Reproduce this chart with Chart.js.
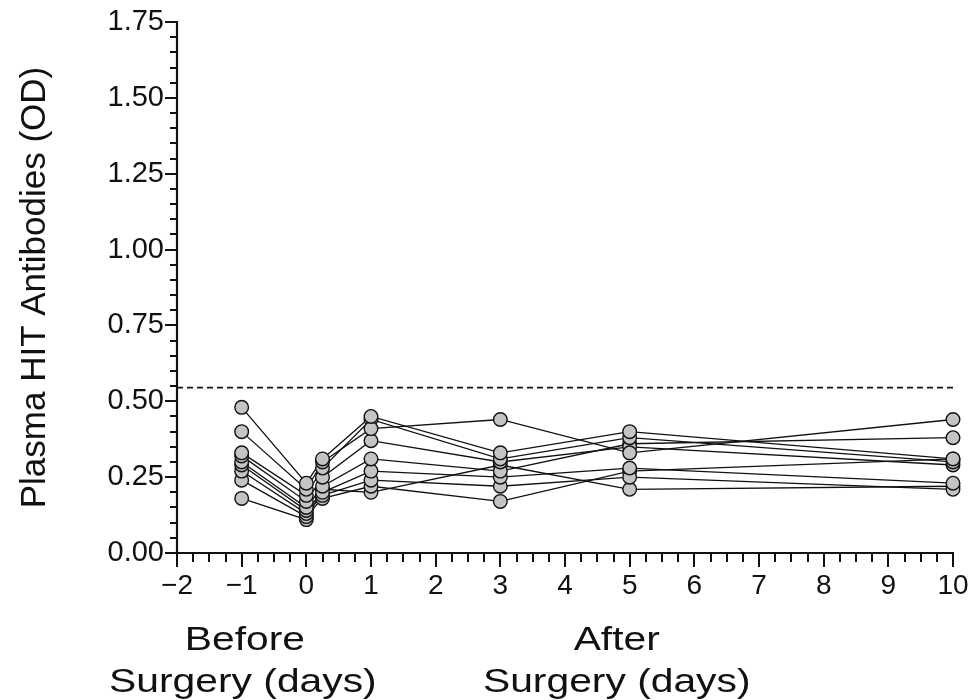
<!DOCTYPE html>
<html><head><meta charset="utf-8">
<script src="https://cdn.jsdelivr.net/npm/chart.js@4.4.1/dist/chart.umd.min.js"></script>
<style>html,body{margin:0;padding:0;background:#fff}#wrap{width:975px;height:700px}</style>
</head><body><div id="wrap"><canvas id="c" width="975" height="700"></canvas></div>
<script>
// Sampling days (relative to surgery)
const days = [-1, 0, 0.25, 1, 3, 5, 10];
// Plasma HIT antibody OD per patient
const patient1 = [0.48, 0.23, 0.31, 0.45, 0.33, 0.40, 0.31];
const patient2 = [0.40, 0.21, 0.30, 0.41, 0.44, 0.33, 0.44];
const patient3 = [0.33, 0.19, 0.28, 0.44, 0.31, 0.38, 0.30];
const patient4 = [0.32, 0.17, 0.25, 0.37, 0.30, 0.35, 0.29];
const patient5 = [0.30, 0.15, 0.22, 0.31, 0.27, 0.36, 0.38];
const patient6 = [0.29, 0.14, 0.20, 0.27, 0.25, 0.28, 0.23];
const patient7 = [0.27, 0.13, 0.19, 0.24, 0.22, 0.25, 0.21];
const patient8 = [0.24, 0.12, 0.18, 0.22, 0.17, 0.27, 0.31];
const patient9 = [0.18, 0.11, 0.21, 0.20, 0.29, 0.21, 0.22];
const patients = [patient1, patient2, patient3, patient4, patient5, patient6, patient7, patient8, patient9];
// Positive cutoff (dashed line)
const cutoff = 0.545;
const cutoffDays = [-2, 10];
// Axis labels
const yTitle = 'Plasma HIT Antibodies (OD)';
const beforeLabel = ['Before', 'Surgery (days)'];
const afterLabel = ['After', 'Surgery (days)'];

const FONT = '"Liberation Sans", Arial, Helvetica, sans-serif';

const lineSets = patients.map((p, i) => ({
  label: 'P' + (i + 1) + ' line',
  data: days.map((d, j) => ({x: d, y: p[j]})),
  showLine: true, borderColor: '#111', borderWidth: 1.3,
  pointRadius: 0, clip: false, order: 2
}));
const pointSets = patients.map((p, i) => ({
  label: 'P' + (i + 1),
  data: days.map((d, j) => ({x: d, y: p[j]})),
  showLine: false, pointRadius: 6.8, pointBackgroundColor: '#c4c4c4',
  pointBorderColor: '#111', pointBorderWidth: 1.4, clip: false, order: 1
}));
const cutoffSet = {
  label: 'cutoff',
  data: cutoffDays.map(d => ({x: d, y: cutoff})),
  showLine: true, borderColor: '#111', borderWidth: 1.6, borderDash: [6, 4],
  pointRadius: 0, clip: false, order: 3
};

const axisPlugin = {
  id: 'axisPlugin',
  afterDraw(chart) {
    const {ctx, scales: {x, y}} = chart;
    const x0 = x.getPixelForValue(-2), x1 = x.getPixelForValue(10);
    const y0 = y.getPixelForValue(0), y1 = y.getPixelForValue(1.75);
    ctx.save();
    ctx.strokeStyle = '#111';
    ctx.lineWidth = 2.2;
    ctx.beginPath();
    ctx.moveTo(x0, y1 - 1); ctx.lineTo(x0, y0 + 1);
    ctx.moveTo(x0 - 1, y0); ctx.lineTo(x1 + 1, y0);
    ctx.stroke();
    ctx.lineWidth = 2;
    ctx.beginPath();
    for (let k = 0; k <= 35; k++) {
      const v = k * 0.05, py = Math.round(y.getPixelForValue(v));
      const len = (k % 5 === 0) ? 12 : 7;
      ctx.moveTo(x0 - len, py); ctx.lineTo(x0, py);
    }
    for (let k = 0; k <= 48; k++) {
      const v = -2 + k * 0.25, px = Math.round(x.getPixelForValue(v));
      const len = (k % 4 === 0) ? 14 : 9;
      ctx.moveTo(px, y0); ctx.lineTo(px, y0 + len);
    }
    ctx.stroke();
    // bottom captions (horizontally widened like the original typesetting)
    ctx.fillStyle = '#111';
    ctx.font = '34px ' + FONT;
    ctx.textAlign = 'center';
    ctx.textBaseline = 'middle';
    const sx = 1.2;
    const bx = x.getPixelForValue(-0.95), ax = x.getPixelForValue(4.8);
    const put = (t, cx, cy) => {
      ctx.save(); ctx.translate(cx, cy); ctx.scale(sx, 1); ctx.fillText(t, 0, 0); ctx.restore();
    };
    put(beforeLabel[0], bx, 641);
    put(beforeLabel[1], bx - 2, 683);
    put(afterLabel[0], ax, 641);
    put(afterLabel[1], ax, 683);
    ctx.restore();
  }
};

new Chart(document.getElementById('c'), {
  type: 'scatter',
  data: {datasets: [cutoffSet, ...lineSets, ...pointSets]},
  options: {
    responsive: false, animation: false,
    layout: {padding: {top: 22, right: 22, left: 0, bottom: 0}},
    plugins: {legend: {display: false}, tooltip: {enabled: false}},
    scales: {
      x: {
        type: 'linear', min: -2, max: 10,
        grid: {display: false, drawTicks: false}, border: {display: false},
        afterFit: s => { s.height = 147; s.paddingLeft = 0; s.paddingRight = 0; },
        ticks: {
          stepSize: 1, autoSkip: false, maxRotation: 0, padding: 16, color: '#111',
          font: {family: FONT, size: 28},
          callback: v => v < 0 ? '\u2212' + Math.abs(v) : String(v)
        }
      },
      y: {
        type: 'linear', min: 0, max: 1.75,
        grid: {display: false, drawTicks: false}, border: {display: false},
        afterFit: s => { s.width = 177; s.paddingTop = 0; s.paddingBottom = 0; },
        ticks: {
          stepSize: 0.25, padding: 13, color: '#111',
          font: {family: FONT, size: 29},
          callback: v => Number(v).toFixed(2)
        },
        title: {display: true, text: yTitle, color: '#111', padding: {top: 14, bottom: 0},
          font: {family: FONT, size: 35}}
      }
    }
  },
  plugins: [axisPlugin]
});
</script></body></html>
